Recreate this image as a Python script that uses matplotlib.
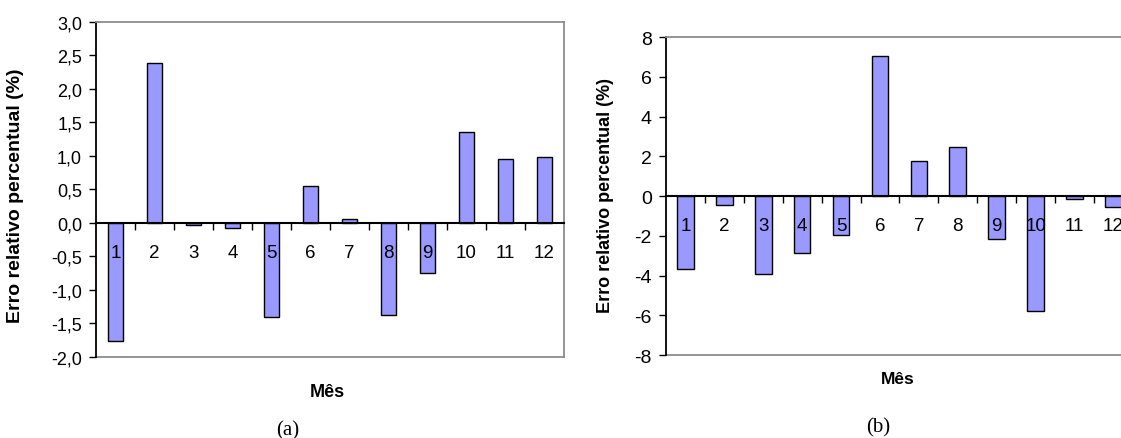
import matplotlib
matplotlib.use('Agg')
import matplotlib.pyplot as plt
from matplotlib.ticker import FixedLocator, FuncFormatter

plt.rcParams['font.family'] = ['Liberation Sans', 'DejaVu Sans']

meses = [1, 2, 3, 4, 5, 6, 7, 8, 9, 10, 11, 12]
erro_a = [-1.76, 2.39, -0.03, -0.08, -1.41, 0.555, 0.055, -1.38, -0.75, 1.35, 0.95, 0.98]
erro_b = [-3.69, -0.47, -3.94, -2.85, -1.94, 7.07, 1.76, 2.47, -2.16, -5.79, -0.17, -0.55]

yticks_a = [-2.0, -1.5, -1.0, -0.5, 0.0, 0.5, 1.0, 1.5, 2.0, 2.5, 3.0]
yticks_b = [-8, -6, -4, -2, 0, 2, 4, 6, 8]

ylabel = 'Erro relativo percentual (%)'
xlabel = 'Mês'
bar_color = '#9999FF'
frame_gray = '#8c8c8c'


def draw_panel(ax, vals, yticks, fmt, bar_w, tick_size, lab_size):
    x = list(range(len(meses)))
    ax.bar(x, vals, width=bar_w, color=bar_color, edgecolor='black', linewidth=1.0, zorder=1.5)
    ax.set_xlim(-0.5, len(meses) - 0.5)
    ax.set_ylim(yticks[0], yticks[-1])
    ax.set_yticks(yticks)
    ax.yaxis.set_major_formatter(FuncFormatter(fmt))
    ax.tick_params(axis='y', direction='out', length=5, width=1, pad=5, labelsize=tick_size)

    # x axis line sits on zero, ticks between categories
    ax.spines['bottom'].set_position(('data', 0))
    ax.spines['bottom'].set_color('black')
    ax.spines['bottom'].set_linewidth(1.5)
    ax.spines['bottom'].set_zorder(3)
    ax.xaxis.set_major_locator(FixedLocator(x))
    ax.set_xticklabels([str(m) for m in meses])
    ax.xaxis.set_minor_locator(FixedLocator([i + 0.5 for i in x[:-1]]))
    ax.tick_params(axis='x', which='major', length=0, pad=15, labelsize=lab_size)
    ax.tick_params(axis='x', which='minor', direction='out', length=5, width=1)
    ax.xaxis.set_zorder(4)

    ax.spines['left'].set_color('black')
    ax.spines['left'].set_linewidth(1.3)
    for s in ['top', 'right']:
        ax.spines[s].set_color(frame_gray)
        ax.spines[s].set_linewidth(1.3)
    # bottom frame line in gray
    ax.plot([0, 1], [0, 0], transform=ax.transAxes, color=frame_gray, lw=1.3, clip_on=False, zorder=1)


fig = plt.figure(figsize=(11.21, 4.39), dpi=100)

ax1 = fig.add_axes([0.0856, 0.1845, 0.4175, 0.7638])
draw_panel(ax1, erro_a, yticks_a, lambda v, p: f'{v:.1f}'.replace('.', ','), 0.39, 13, 13.5)
ax1.set_ylabel(ylabel, fontsize=14, fontweight='bold')
ax1.yaxis.set_label_coords(-0.154, 0.483)
ax1.set_xlabel(xlabel, fontsize=13, fontweight='bold')
ax1.xaxis.set_label_coords(0.494, -0.078)

ax2 = fig.add_axes([0.594, 0.189, 0.4167, 0.7244])
draw_panel(ax2, erro_b, yticks_b, lambda v, p: f'{v:.0f}', 0.43, 14, 13.5)
ax2.set_ylabel(ylabel, fontsize=13, fontweight='bold')
ax2.yaxis.set_label_coords(-0.110, 0.506)
ax2.set_xlabel(xlabel, fontsize=12.5, fontweight='bold')
ax2.xaxis.set_label_coords(0.497, -0.050)

fig.text(288 / 1121, 1 - 431 / 439, '(a)', family='Liberation Serif', fontsize=15, ha='center', va='center')
fig.text(878 / 1121, 1 - 428 / 439, '(b)', family='Liberation Serif', fontsize=15, ha='center', va='center')

fig.savefig('out.png', dpi=100)
